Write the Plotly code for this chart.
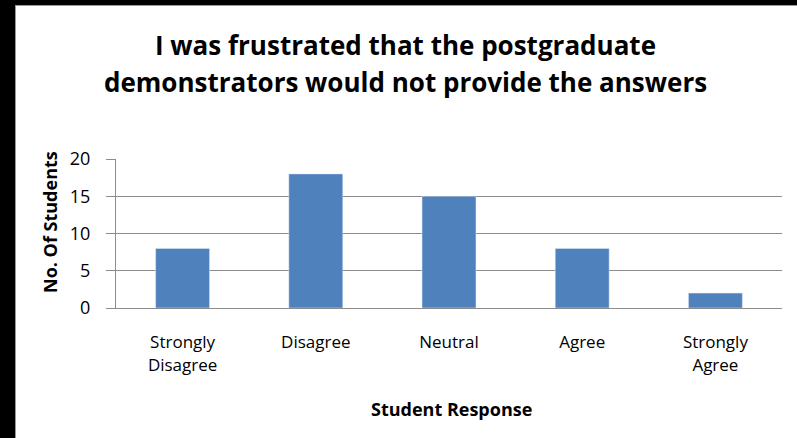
import plotly.graph_objects as go

categories = ["Strongly<br>Disagree", "Disagree", "Neutral", "Agree", "Strongly<br>Agree"]
students = [8, 18, 15, 8, 2]
y_ticks = [0, 5, 10, 15, 20]

# the chart sits in a white box offset from the black window edge
OX, OY = 16, 6
W, H = 797 - OX, 438 - OY
L, R, T, B = 100, 15, 153, 130
pw, ph = W - L - R, H - T - B

def px(x):
    return (x - OX - L) / pw

def py(y):
    return (H - B - (y - OY)) / ph

font = "Open Sans, Lato, sans-serif"

fig = go.Figure(go.Bar(x=categories, y=students, marker_color="#4f81bd", width=0.405))

fig.update_layout(
    width=W, height=H,
    margin=dict(l=L, r=R, t=T, b=B, pad=0),
    paper_bgcolor="white", plot_bgcolor="white",
    showlegend=False,
    font=dict(family=font, color="#000000"),
)
fig.update_yaxes(range=[0, 20], tickvals=y_ticks, showgrid=True, gridcolor="#8c8c8c", gridwidth=1,
                 showline=True, linecolor="#8c8c8c", linewidth=1, ticks="outside", ticklen=9,
                 tickcolor="#8c8c8c", tickfont=dict(size=18), zeroline=False, ticklabelstandoff=12)
fig.update_xaxes(showline=True, linecolor="#8c8c8c", linewidth=1, tickfont=dict(size=17),
                 ticks="", ticklabelstandoff=19)

ann = [
    dict(text="<b>I was frustrated that the postgraduate</b>", x=px(405), y=py(45)),
    dict(text="<b>demonstrators would not provide the answers</b>", x=px(405), y=py(82)),
]
annotations = [dict(a, xref="paper", yref="paper", showarrow=False, xanchor="center", yanchor="middle",
                    font=dict(size=26, family=font)) for a in ann]
annotations.append(dict(text="<b>No. Of Students</b>", x=px(50), y=py(222), xref="paper", yref="paper",
                        showarrow=False, textangle=-90, xanchor="center", yanchor="middle",
                        font=dict(size=18, family=font)))
annotations.append(dict(text="<b>Student Response</b>", x=px(452), y=py(409), xref="paper", yref="paper",
                        showarrow=False, xanchor="center", yanchor="middle",
                        font=dict(size=18, family=font)))
fig.update_layout(annotations=annotations)

post = (
    "var h=document.documentElement,b=document.body;"
    "h.style.background='#ffffff';h.style.overflow='hidden';"
    "b.style.background='#ffffff';b.style.margin='0';b.style.overflow='hidden';"
    "var d=document.getElementById('{plot_id}');"
    "d.style.position='fixed';d.style.left='15px';d.style.top='5px';"
    "d.style.borderLeft='1px solid #999';d.style.borderTop='1px solid #999';"
    "var s=document.createElement('div');"
    "s.style.cssText='position:fixed;left:0;top:0;width:15px;height:100%;background:black';"
    "b.appendChild(s);"
    "var t=document.createElement('div');"
    "t.style.cssText='position:fixed;left:0;top:0;width:100%;height:5px;background:black';"
    "b.appendChild(t);"
)
fig.write_html("out.html", config={"displayModeBar": False}, post_script=post)
